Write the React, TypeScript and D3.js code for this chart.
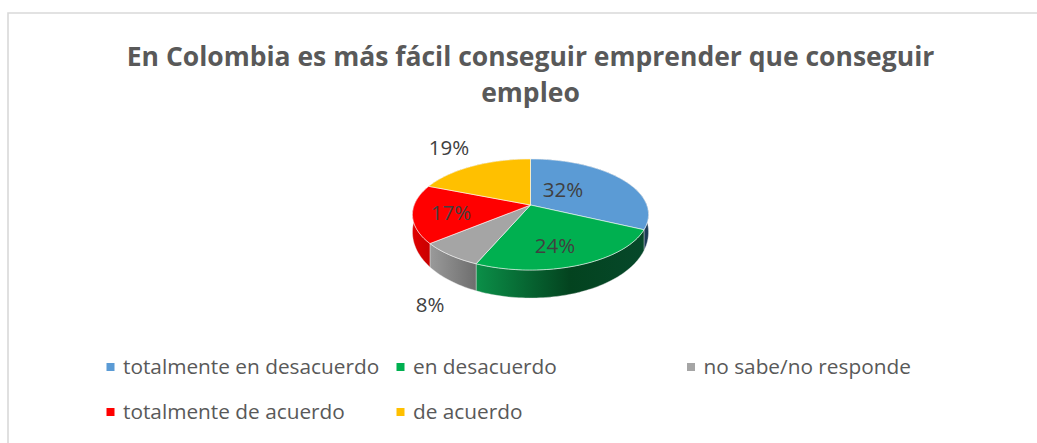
import React from "react";
import * as d3 from "d3";

const W = 1037, H = 443;
const categories = ["totalmente en desacuerdo", "en desacuerdo", "no sabe/no responde", "totalmente de acuerdo", "de acuerdo"];
const values = [32, 24.45, 7.55, 17, 19];
const colors = ["#5b9bd5", "#00b050", "#a5a5a5", "#ff0000", "#ffc000"];
const sideStops = [
  ["#34597c", "#1c3a57"],
  ["#0b8f48", "#03431f", "#06482a"],
  ["#9a9a9a", "#6e6e6e"],
  ["#e00000", "#c80000"],
  ["#b58a00", "#b58a00"],
];
const titleLines = ["En Colombia es más fácil conseguir emprender que conseguir", "empleo"];
const labelPos: [number, number][] = [[563, 190], [555, 246], [430, 305], [451, 213], [449, 148]];
const legendPos: [number, number][] = [[106.5, 367], [396.5, 367], [687, 367], [106.5, 412], [396.5, 412]];

const cx = 530.5, cy = 205, R = 116.3, Q = 53.9, K = 0.171, DEPTH = 28;
const project = (a: number, down = false): [number, number] => {
  const u = Math.sin(a), v = -Math.cos(a), w = 1 - K * v;
  const dy = down ? DEPTH * (0.55 + 0.45 * v) : 0;
  return [cx + (R * u) / w, cy + (Q * v) / w + dy];
};
const line = d3.line();
const slices = d3.pie<number>().sort(null).value((d) => d)(values);
const FONT = "'Open Sans', sans-serif";

function samples(a0: number, a1: number) {
  const n = Math.max(2, Math.ceil((a1 - a0) * 40));
  return d3.range(n + 1).map((i) => a0 + ((a1 - a0) * i) / n);
}

export default function App() {
  return (
    <svg width={W} height={H} style={{ position: "absolute", left: 0, top: 0, background: "#fff" }}>
      <defs>
        {slices.map((s, i) => {
          const xs = samples(s.startAngle, s.endAngle).map((a) => project(a)[0]);
          return (
            <linearGradient key={i} id={`side${i}`} gradientUnits="userSpaceOnUse"
              x1={d3.min(xs)} x2={d3.max(xs)} y1={0} y2={0}>
              {sideStops[i].map((c, j, arr) => (
                <stop key={j} offset={i === 1 ? [0, 0.56, 1][j] : j / (arr.length - 1)} stopColor={c} />
              ))}
            </linearGradient>
          );
        })}
      </defs>
      <path d={`M8,443V13H1037`} fill="none" stroke="#d9d9d9" strokeWidth={1.6} />
      {titleLines.map((t, i) => (
        <text key={i} x={530.5} y={66 + i * 36} textAnchor="middle" fontFamily={FONT} fontWeight={700} fontSize={26.5} fill="#595959">{t}</text>
      ))}
      {slices.map((s, i) => {
        const as = samples(s.startAngle, s.endAngle);
        const pts = [...as.map((a) => project(a)), ...[...as].reverse().map((a) => project(a, true))];
        return <path key={i} d={line(pts) + "Z"} fill={`url(#side${i})`} stroke="#e8e8e8" strokeWidth={0.4} />;
      })}
      {slices.map((s, i) => {
        const pts = [[cx, cy] as [number, number], ...samples(s.startAngle, s.endAngle).map((a) => project(a))];
        return <path key={i} d={line(pts) + "Z"} fill={colors[i]} stroke="#ffffff" strokeOpacity={0.7} strokeWidth={0.8} />;
      })}
      {values.map((v, i) => (
        <text key={i} x={labelPos[i][0]} y={labelPos[i][1]} dy="0.35em" textAnchor="middle" fontFamily={FONT} fontSize={20.5} fill="#404040">{Math.round(v)}%</text>
      ))}
      {categories.map((c, i) => (
        <g key={i}>
          <rect x={legendPos[i][0]} y={legendPos[i][1] - 4} width={8} height={8} fill={colors[i]} />
          <text x={legendPos[i][0] + 16.5} y={legendPos[i][1]} dy="0.35em" fontFamily={FONT} fontSize={20.8} fill="#595959">{c}</text>
        </g>
      ))}
    </svg>
  );
}
